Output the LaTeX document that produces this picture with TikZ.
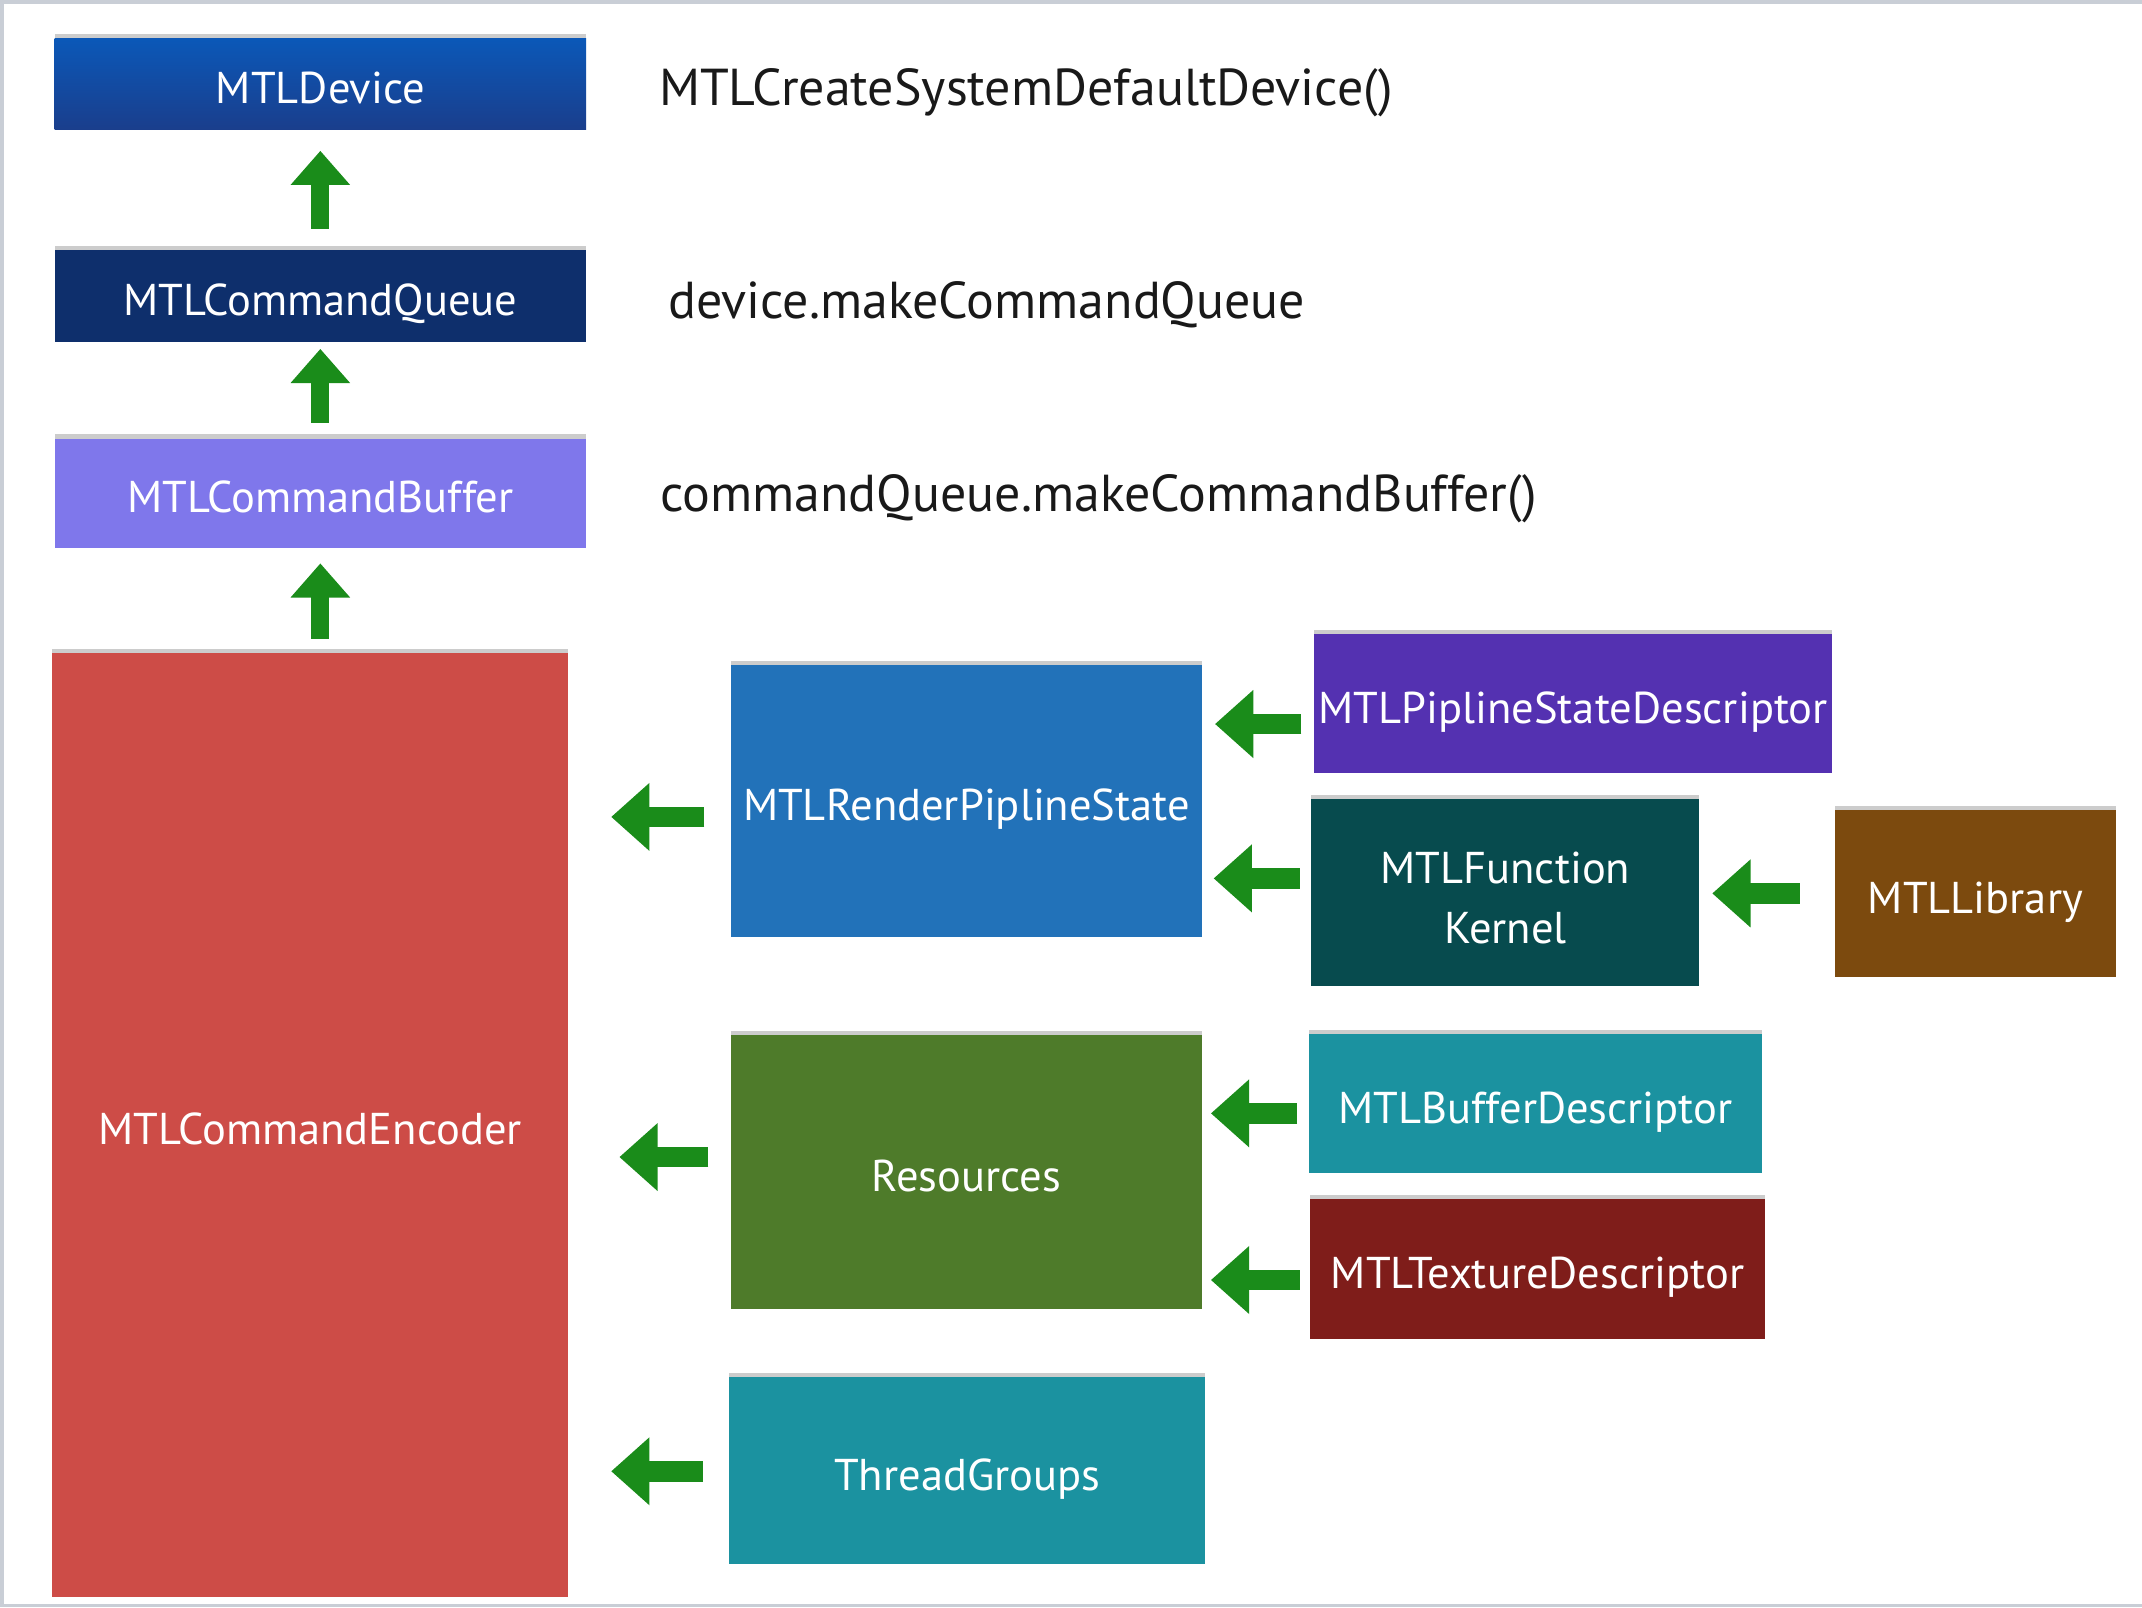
\documentclass[tikz,border=0pt]{standalone}
\usepackage{fontspec}
\setmainfont{PT Sans}
\usetikzlibrary{arrows.meta,shadows}
\definecolor{devtop}{HTML}{0B58B8}
\definecolor{devbot}{HTML}{1A3E8C}
\definecolor{queuec}{HTML}{0E2F6C}
\definecolor{bufc}{HTML}{7F77EB}
\definecolor{encc}{HTML}{CD4C47}
\definecolor{rpsc}{HTML}{2272B9}
\definecolor{psdc}{HTML}{5431B1}
\definecolor{funcc}{HTML}{074B4E}
\definecolor{libc}{HTML}{7C4A0E}
\definecolor{resc}{HTML}{4E7B2A}
\definecolor{tealc}{HTML}{1B92A0}
\definecolor{texc}{HTML}{7F1D1A}
\definecolor{arrowgreen}{HTML}{1A8C1A}
\definecolor{framegray}{HTML}{C9CED6}
\newcommand\mtlboxfont{\fontsize{16.3}{22}\selectfont}
\newcommand\mtlcodefont{\fontsize{19}{23}\selectfont}
\begin{document}
\begin{tikzpicture}[x=0.5pt,y=-0.5pt,
  mtlbox/.style={rectangle, inner sep=0pt, text=white, font=\mtlboxfont, align=center,
    text height=16pt, text depth=1.6pt,
    drop shadow={shadow xshift=0pt, shadow yshift=1.5pt, opacity=0.2, fill=black}},
  codetext/.style={anchor=west, inner sep=0pt, text=black!90, font=\mtlcodefont},
  garrow/.style={draw=arrowgreen, line width=7.5pt, -{Triangle[width=24pt,length=14pt]}},
  garrowv/.style={draw=arrowgreen, line width=6.5pt, -{Triangle[width=21pt,length=12.5pt]}}]
\useasboundingbox (0,0) rectangle (1568,1177);
\fill[white] (0,0) rectangle (1568,1177);
\draw[framegray, line width=1.2pt] (1568,1.5) -- (1.5,1.5) -- (1.5,1175.5) -- (1568,1175.5);

% left column
\node[mtlbox, shade, top color=devtop, bottom color=devbot, minimum width=194.5pt, minimum height=33.5pt] (dev) at (234.5,61.5) {MTLDevice};
\node[mtlbox, fill=queuec, minimum width=194.5pt, minimum height=33.5pt] (queue) at (234.5,216.5) {MTLCommandQueue};
\node[mtlbox, fill=bufc, minimum width=194.5pt, minimum height=40pt] (buf) at (234.5,361) {MTLCommandBuffer};
\node[mtlbox, fill=encc, minimum width=189pt, minimum height=345.5pt] (enc) at (227,823.5) {MTLCommandEncoder};

% middle column
\node[mtlbox, fill=rpsc, minimum width=172.5pt, minimum height=99.5pt] (rps) at (707.5,586.5) {MTLRenderPiplineState};
\node[mtlbox, fill=resc, minimum width=172.5pt, minimum height=100pt] (res) at (707.5,858) {Resources};
\node[mtlbox, fill=tealc, minimum width=174pt, minimum height=68.5pt] (tg) at (708,1076.5) {ThreadGroups};

% right column
\node[mtlbox, fill=psdc, minimum width=189.5pt, minimum height=51pt] (psd) at (1151.5,515) {MTLPiplineStateDescriptor};
\node[mtlbox, fill=funcc, minimum width=142pt, minimum height=68.5pt, text height={}, text depth={}] (func) at (1102,653.5) {\rule{0pt}{15.7pt}MTLFunction\\Kernel};
\node[mtlbox, fill=libc, minimum width=103pt, minimum height=61pt] (lib) at (1446,654) {MTLLibrary};
\node[mtlbox, fill=tealc, minimum width=166pt, minimum height=51pt] (bufd) at (1124,808) {MTLBufferDescriptor};
\node[mtlbox, fill=texc, minimum width=166.5pt, minimum height=51pt] (texd) at (1125.5,929) {MTLTextureDescriptor};

% code texts
\node[codetext] (t1) at (482,68) {MTLCreateSystemDefaultDevice()};
\node[codetext] (t2) at (489,223) {device.makeCommandQueue};
\node[codetext] (t3) at (483,365) {commandQueue.makeCommandBuffer()};

% vertical arrows
\draw[garrowv, shorten <=7.5pt, shorten >=7.5pt] (queue.north) -- (dev.south);
\draw[garrowv, shorten <=5.5pt, shorten >=2.5pt] (buf.north) -- (queue.south);
\draw[garrowv, shorten <=5pt, shorten >=5.5pt] (enc.north -| buf.south) -- (buf.south);

% horizontal arrows
\draw[garrow, shorten <=9.5pt, shorten >=15.5pt] (rps.west |- 0,598) -- (enc.east |- 0,598);
\draw[garrow, shorten <=8pt, shorten >=18.5pt] (res.west |- 0,847) -- (enc.east |- 0,847);
\draw[garrow, shorten <=9.5pt, shorten >=15.5pt] (tg.west |- 0,1077) -- (enc.east |- 0,1077);
\draw[garrow, shorten <=4.5pt, shorten >=4.5pt] (psd.west |- 0,530) -- (rps.east |- 0,530);
\draw[garrow, shorten <=4pt, shorten >=4pt] (func.west |- 0,643) -- (rps.east |- 0,643);
\draw[garrow, shorten <=12.5pt, shorten >=4.5pt] (lib.west |- 0,654) -- (func.east |- 0,654);
\draw[garrow, shorten <=4pt, shorten >=3pt] (bufd.west |- 0,815) -- (res.east |- 0,815);
\draw[garrow, shorten <=3.5pt, shorten >=3pt] (texd.west |- 0,937) -- (res.east |- 0,937);
\end{tikzpicture}
\end{document}
